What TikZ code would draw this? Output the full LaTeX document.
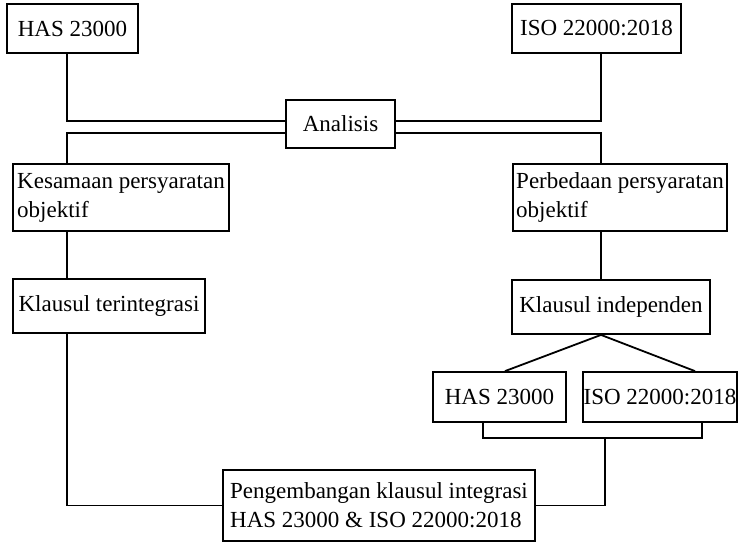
\documentclass[tikz,border=0pt]{standalone}
\usepackage{fontspec}
\setmainfont{Liberation Serif}
\newcommand{\boxfont}{\fontsize{11.5}{14.5}\selectfont}
\tikzset{
  box/.style={draw, line width=0.9pt, inner sep=0pt, font=\boxfont, align=left},
  link/.style={line width=0.9pt}
}
\begin{document}
\begin{tikzpicture}[x=0.5pt,y=-0.5pt]
\useasboundingbox (0,0) rectangle (738,543);
% boxes
\node [box, minimum width=65.5pt, minimum height=24.5pt] (has) at (72.5,28.5) {HAS 23000};
\node [box, minimum width=84.5pt, minimum height=24.5pt] (iso) at (596.5,28.5) {ISO 22000:2018};
\node [box, minimum width=54.5pt, minimum height=24pt] (analisis) at (340.5,124) {Analisis};
\node [box, minimum width=108pt, minimum height=33.5pt] (kesamaan) at (121,197.5) {Kesamaan persyaratan\\objektif};
\node [box, minimum width=107pt, minimum height=33.5pt] (perbedaan) at (620,197.5) {Perbedaan persyaratan\\objektif};
\node [box, minimum width=96pt, minimum height=27pt] (terint) at (109,306) {Klausul terintegrasi};
\node [box, minimum width=99pt, minimum height=27pt] (indep) at (611,307) {Klausul independen};
\node [box, minimum width=66.5pt, minimum height=25pt] (has2) at (499.5,397) {HAS 23000};
\node [box, minimum width=77pt, minimum height=25pt] (iso2) at (660,397) {ISO 22000:2018};
\node [box, minimum width=156pt, minimum height=35.5pt] (peng) at (379,505.5) {Pengembangan klausul integrasi\\HAS 23000 \& ISO 22000:2018};
% spines
\coordinate (lspine) at (67,0);
\coordinate (rspine) at (601,0);
\coordinate (bracketmid) at (605,438);
% connectors
\draw [link] (has.south -| lspine) |- ([yshift=1.5pt]analisis.west);
\draw [link] (iso.south -| rspine) |- ([yshift=1.5pt]analisis.east);
\draw [link] ([yshift=-4.5pt]analisis.west) -| (kesamaan.north -| lspine);
\draw [link] ([yshift=-4.5pt]analisis.east) -| (perbedaan.north -| rspine);
\draw [link] (kesamaan.south -| lspine) -- (terint.north -| lspine);
\draw [link] (perbedaan.south -| rspine) -- (indep.north -| rspine);
\draw [link] (terint.south -| lspine) |- (peng.west);
\draw [link] (indep.south -| rspine) -- ([xshift=2.75pt]has2.north);
\draw [link] (indep.south -| rspine) -- ([xshift=17.5pt]iso2.north);
\draw [link] ([xshift=-8.25pt]has2.south) |- (bracketmid) -| ([xshift=21pt]iso2.south);
\draw [link] (bracketmid) |- (peng.east);
\end{tikzpicture}
\end{document}
